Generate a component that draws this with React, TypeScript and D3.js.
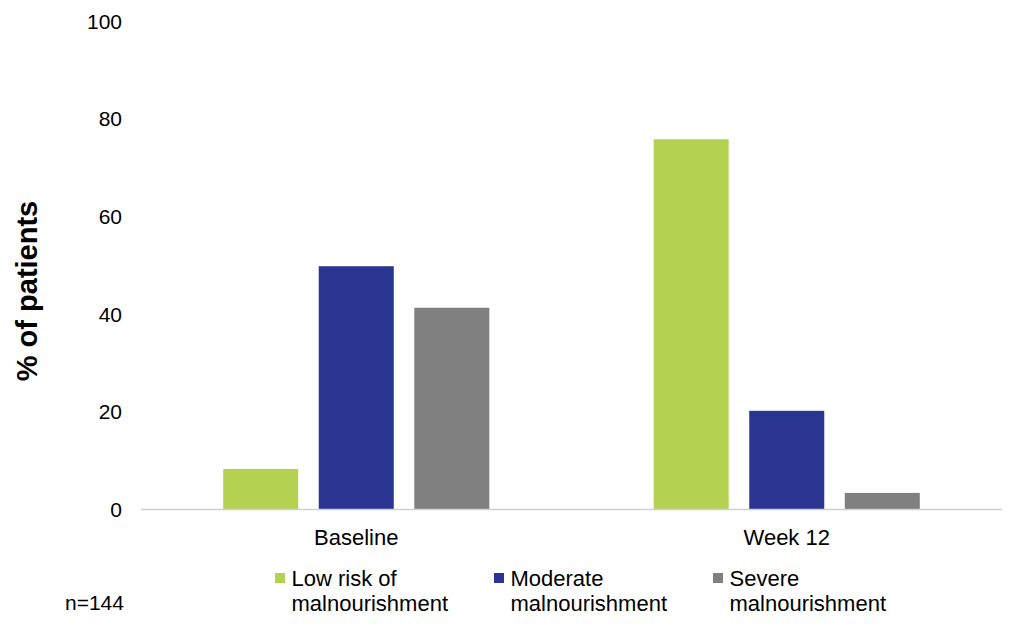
import React from "react";
import * as d3 from "d3";

const categories = ["Baseline", "Week 12"];
const seriesNames = ["Low risk of malnourishment", "Moderate malnourishment", "Severe malnourishment"];
const legendLines = [["Low risk of", "malnourishment"], ["Moderate", "malnourishment"], ["Severe", "malnourishment"]];
const lowRisk = [8.3, 75.8];
const moderate = [49.8, 20.2];
const severe = [41.3, 3.4];
const seriesColors = ["#b5d152", "#2a3592", "#808080"];
const yTicks = [0, 20, 40, 60, 80, 100];

export default function App() {
  const W = 1024, H = 633;
  const left = 141, right = 1002, top = 21, bottom = 509.5;
  const x0 = d3.scaleBand<string>().domain(categories).range([left, right]).padding(0);
  const x1 = d3.scaleBand<string>().domain(seriesNames).range([0, x0.bandwidth()]).paddingInner(0.215).paddingOuter(0.86);
  const y = d3.scaleLinear().domain([0, 100]).range([bottom, top]);
  const values = [lowRisk, moderate, severe];
  const font = "'Liberation Sans', Arial, Helvetica, sans-serif";
  const legendX = [275, 494, 713];

  return (
    <svg width={W} height={H} style={{ position: "absolute", left: 0, top: 0, background: "#fff" }} fontFamily={font}>
      {yTicks.map((t) => (
        <text key={t} x={122} y={y(t)} textAnchor="end" dominantBaseline="central" fontSize={21} fill="#000">
          {t}
        </text>
      ))}
      <text transform={`translate(${27},${291}) rotate(-90)`} textAnchor="middle" dominantBaseline="central" fontSize={29} fontWeight="bold" fill="#000">
        % of patients
      </text>
      {categories.map((c, ci) => (
        <g key={c}>
          {seriesNames.map((s, si) => (
            <rect
              key={s}
              x={(x0(c) as number) + (x1(s) as number)}
              y={y(values[si][ci])}
              width={x1.bandwidth()}
              height={y(0) - y(values[si][ci])}
              fill={seriesColors[si]}
            />
          ))}
          <text x={(x0(c) as number) + x0.bandwidth() / 2} y={537} textAnchor="middle" dominantBaseline="central" fontSize={22} fill="#000">
            {c}
          </text>
        </g>
      ))}
      <line x1={left} x2={right} y1={y(0)} y2={y(0)} stroke="#d0d0d0" strokeWidth={1.5} />
      {seriesNames.map((s, si) => (
        <g key={s}>
          <rect x={legendX[si]} y={573} width={10} height={10} fill={seriesColors[si]} />
          {legendLines[si].map((ln, li) => (
            <text key={li} x={legendX[si] + 16.5} y={586 + li * 24.5} fontSize={22} fill="#000">
              {ln}
            </text>
          ))}
        </g>
      ))}
      <text x={65} y={610} fontSize={21} fill="#000">n=144</text>
    </svg>
  );
}
